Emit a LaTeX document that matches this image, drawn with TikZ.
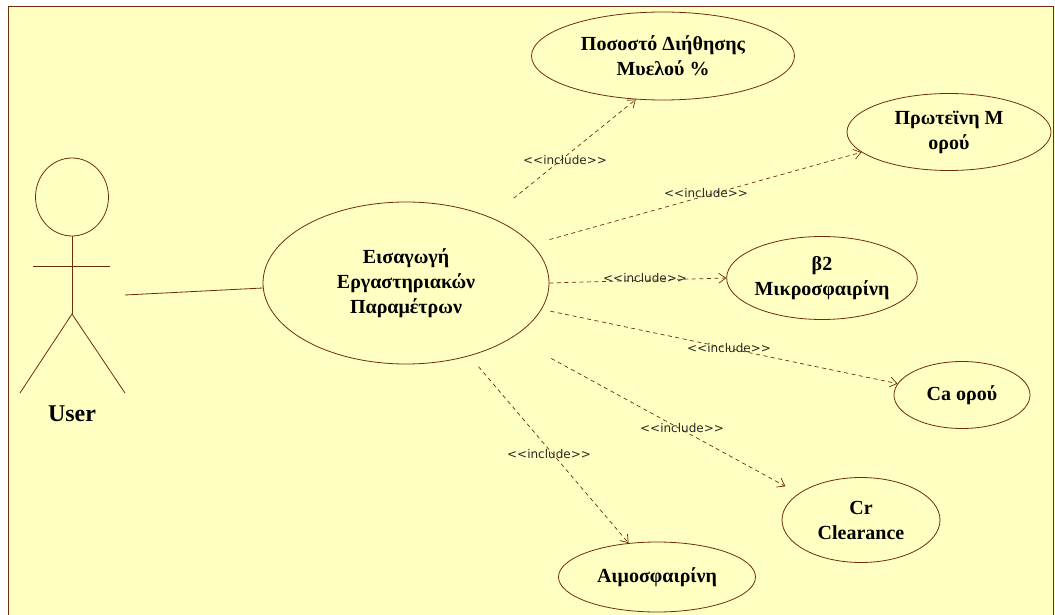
\documentclass[tikz,border=0pt]{standalone}
\usepackage{fontspec}
\setmainfont{Liberation Serif}
\newfontfamily\lblfont{DejaVu Sans}
\usetikzlibrary{shapes.geometric,arrows.meta}
\definecolor{bgc}{RGB}{255,255,194}
\definecolor{ln}{RGB}{110,45,15}
\definecolor{lbl}{RGB}{40,40,40}
\tikzset{
 uc/.style={ellipse,draw=ln,line width=0.8pt,inner sep=0pt,align=center,font=\fontsize{20}{25}\selectfont\bfseries},
 inc/.style={draw=ln,line width=0.7pt,dash pattern=on 4pt off 3.5pt,-{Straight Barb[length=7pt,width=10pt]}},
 incl/.style={font=\lblfont\fontsize{12}{14}\selectfont,text=lbl,inner sep=0pt},
 actor/.style={draw=ln,line width=0.8pt}
}
\begin{document}
\begin{tikzpicture}[x=1pt,y=-1pt]
\useasboundingbox (0,0) rectangle (1055,615);
\fill[white] (0,0) rectangle (1055,615);
\fill[bgc] (8,7) rectangle (1055,615);
\draw[ln,line width=1pt] (8,615) -- (8,7) -- (1053,7) -- (1053,615);

% actor
\draw[actor] (72,197) ellipse [x radius=36.5pt, y radius=39pt];
\draw[actor] (72,236) -- (72,314);
\draw[actor] (33,266) -- (110,266);
\draw[actor] (20,393) -- (72,314) -- (125,393);
\node[font=\fontsize{24}{28}\selectfont\bfseries] (user) at (72,414) {User};
\coordinate (hand) at (125,295);

% use cases
\node[uc,minimum width=286pt,minimum height=162pt] (main) at (406,283) {Εισαγωγή\\Εργαστηριακών\\Παραμέτρων};
\node[uc,minimum width=263pt,minimum height=88pt] (e1) at (663,56) {Ποσοστό Διήθησης\\Μυελού \%};
\node[uc,minimum width=204pt,minimum height=77pt] (e2) at (949,132) {Πρωτεϊνη Μ\\ορού};
\node[uc,minimum width=186pt,minimum height=83pt] (e3) at (822,278) {β2\\Μικροσφαιρίνη};
\node[uc,minimum width=136pt,minimum height=67pt] (e4) at (962,395) {Ca ορού};
\node[uc,minimum width=158pt,minimum height=85pt] (e5) at (861,520) {Cr\\Clearance};
\node[uc,minimum width=197pt,minimum height=70pt] (e6) at (657,577) {Αιμοσφαιρίνη};

% association
\draw[actor] (hand) -- (main.182);

% includes
\draw[inc,shorten <=30pt] (main.38) -- (e1.238);
\draw[inc,shorten <=18pt] (main.17) -- (e2.193);
\draw[inc] (main.east) -- (e3.west);
\draw[inc,shorten <=9pt] (main.-11) -- (e4.170);
\draw[inc,shorten <=44pt,shorten >=15pt] (main.-27) -- (e5.157);
\draw[inc,shorten <=14pt] (main.-49) -- (e6.130);

\node[incl] (l1) at (565,160) {<<include>>};
\node[incl] (l2) at (706,193) {<<include>>};
\node[incl] (l3) at (645,278) {<<include>>};
\node[incl] (l4) at (729,348) {<<include>>};
\node[incl] (l5) at (682,428) {<<include>>};
\node[incl] (l6) at (549,454) {<<include>>};
\end{tikzpicture}
\end{document}
